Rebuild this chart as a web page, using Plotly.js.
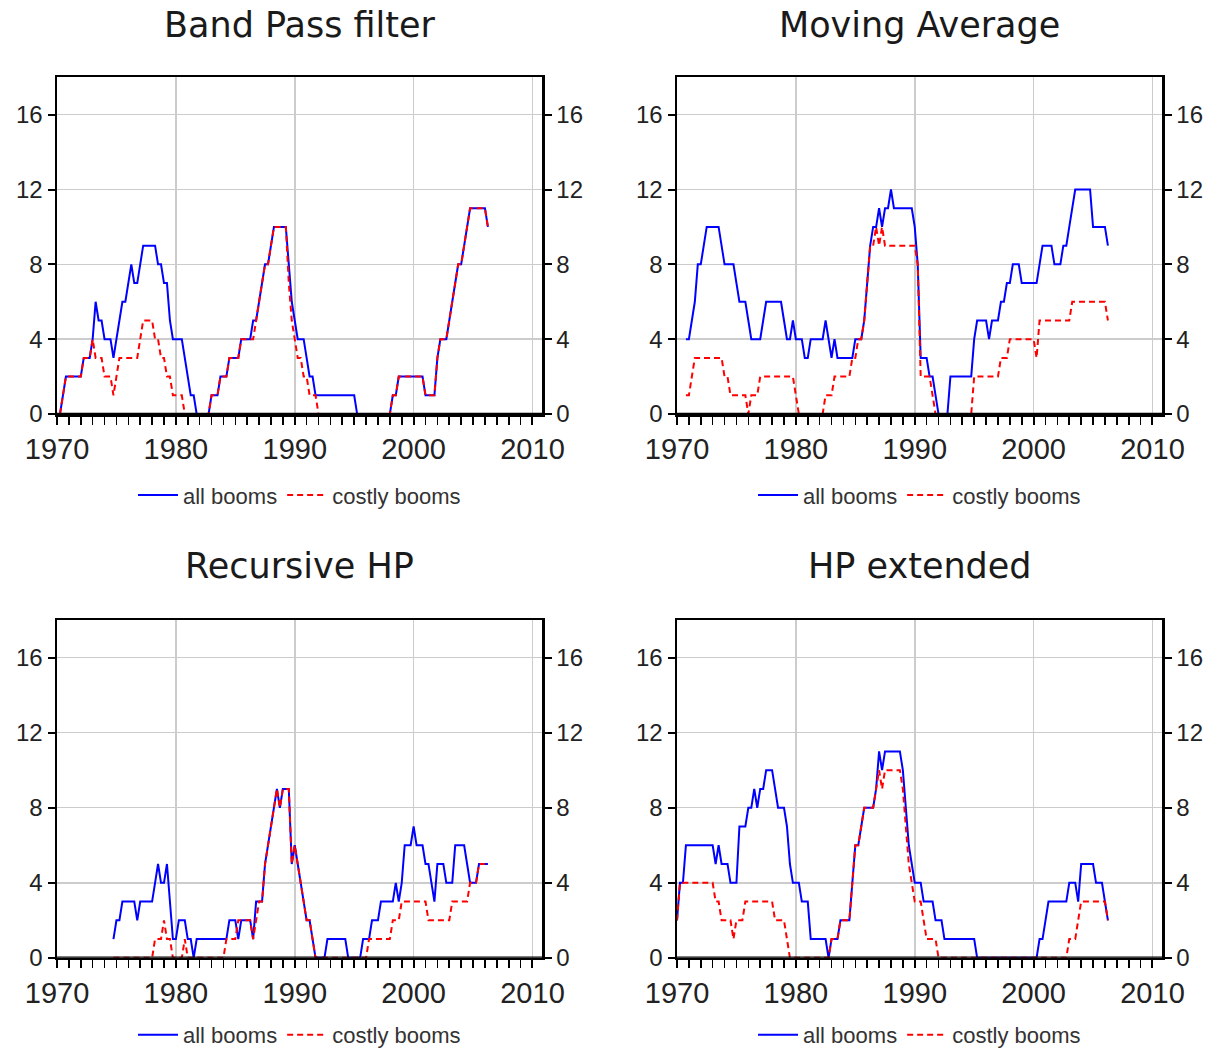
<!DOCTYPE html>
<html>
<head>
<meta charset="utf-8">
<script src="https://cdn.plot.ly/plotly-3.0.1.min.js"></script>
<style>
  html, body { margin: 0; padding: 0; background: #ffffff; }
  #chart { width: 1207px; height: 1056px; }
</style>
</head>
<body>
<div id="chart"></div>
<script>
// Quarterly data: index k of each series corresponds to quarter (start + k) counted from 1970Q1
const panelTitles = ["Band Pass filter", "Moving Average", "Recursive HP", "HP extended"];
const seriesNames = ["all booms", "costly booms"];
const xTickLabels = [1970, 1980, 1990, 2000, 2010];
const yTickLabels = [0, 4, 8, 12, 16];

// Band Pass filter
const bpStart = 1;
const bpAll = [
  0,1,2,2,2,2,2,2,3,3,3,4,
  6,5,5,4,4,4,3,4,5,6,6,7,
  8,7,7,8,9,9,9,9,9,8,8,7,
  7,5,4,4,4,4,3,2,1,1,0,0,
  0,0,0,1,1,1,2,2,2,3,3,3,
  3,4,4,4,4,5,5,6,7,8,8,9,
  10,10,10,10,10,8,6,5,4,4,4,3,
  2,2,1,1,1,1,1,1,1,1,1,1,
  1,1,1,1,0,0,0,0,0,0,0,0,
  0,0,0,0,1,1,2,2,2,2,2,2,
  2,2,2,1,1,1,1,3,4,4,4,5,
  6,7,8,8,9,10,11,11,11,11,11,11,10
];
const bpCostly = [
  0,1,2,2,2,2,2,2,3,3,3,4,
  3,3,3,2,2,2,1,2,3,3,3,3,
  3,3,3,4,5,5,5,5,4,4,3,3,
  2,2,1,1,1,1,0,0,0,0,0,0,
  0,0,0,1,1,1,2,2,2,3,3,3,
  3,4,4,4,4,4,5,6,7,8,8,9,
  10,10,10,10,10,7,5,4,3,3,2,2,
  1,1,1,0,0,0,0,0,0,0,0,0,
  0,0,0,0,0,0,0,0,0,0,0,0,
  0,0,0,0,1,1,2,2,2,2,2,2,
  2,2,2,1,1,1,1,3,4,4,4,5,
  6,7,8,8,9,10,11,11,11,11,11,11,10
];

// Moving Average
const maStart = 3;
const maAll = [
  4,4,5,6,8,8,9,10,10,10,10,10,
  9,8,8,8,8,7,6,6,6,5,4,4,
  4,4,5,6,6,6,6,6,6,5,4,4,
  5,4,4,4,3,3,4,4,4,4,4,5,
  4,3,4,3,3,3,3,3,3,4,4,4,
  5,7,9,10,10,11,10,11,11,12,11,11,
  11,11,11,11,11,10,8,3,3,3,2,2,
  1,0,0,0,0,2,2,2,2,2,2,2,
  2,4,5,5,5,5,4,5,5,5,6,6,
  7,7,8,8,8,7,7,7,7,7,7,8,
  9,9,9,9,8,8,8,9,9,10,11,12,
  12,12,12,12,12,10,10,10,10,10,9
];
const maCostly = [
  1,1,2,3,3,3,3,3,3,3,3,3,
  3,2,2,1,1,1,1,1,1,0,1,1,
  1,2,2,2,2,2,2,2,2,2,2,2,
  2,1,0,0,0,0,0,0,0,0,0,1,
  1,1,2,2,2,2,2,2,3,3,4,4,
  5,7,9,9,10,9,10,9,9,9,9,9,
  9,9,9,9,9,9,8,2,2,2,2,1,
  0,0,0,0,0,0,0,0,0,0,0,0,
  0,2,2,2,2,2,2,2,2,2,3,3,
  3,4,4,4,4,4,4,4,4,4,3,5,
  5,5,5,5,5,5,5,5,5,5,6,6,
  6,6,6,6,6,6,6,6,6,6,5
];

// Recursive HP
const rhpStart = 19;
const rhpAll = [
  1,2,2,3,3,3,3,3,2,3,3,3,
  3,3,4,5,4,4,5,3,1,1,2,2,
  2,1,1,0,1,1,1,1,1,1,1,1,
  1,1,1,2,2,2,1,2,2,2,2,1,
  3,3,3,5,6,7,8,9,8,9,9,9,
  5,6,5,4,3,2,2,1,0,0,0,0,
  1,1,1,1,1,1,1,0,0,0,0,0,
  1,1,1,2,2,2,3,3,3,3,3,4,
  3,4,6,6,6,7,6,6,6,5,5,4,
  3,5,5,5,4,4,4,6,6,6,6,5,
  4,4,4,5,5,5,5
];
const rhpCostly = [
  0,0,0,0,0,0,0,0,0,0,0,0,
  0,0,1,1,1,2,1,1,0,0,0,0,
  1,0,0,0,0,0,0,0,0,0,0,0,
  0,0,1,1,1,1,2,2,2,2,2,1,
  2,3,3,5,6,7,8,9,8,9,9,9,
  5,6,5,4,3,2,2,1,0,0,0,0,
  0,0,0,0,0,0,0,0,0,0,0,0,
  0,0,1,1,1,1,1,1,1,1,2,2,
  2,3,3,3,3,3,3,3,3,3,2,2,
  2,2,2,2,2,2,3,3,3,3,3,3,
  4,4,4,5,5,5
];

// HP extended
const hpeStart = 0;
const hpeAll = [
  2,4,4,6,6,6,6,6,6,6,6,6,
  6,5,6,5,5,5,4,4,4,7,7,7,
  8,8,9,8,9,9,10,10,10,9,8,8,
  8,7,5,4,4,4,3,3,3,1,1,1,
  1,1,1,0,1,1,1,2,2,2,2,4,
  6,6,7,8,8,8,8,9,11,10,11,11,
  11,11,11,11,10,8,6,5,4,4,4,3,
  3,3,3,2,2,2,1,1,1,1,1,1,
  1,1,1,1,1,0,0,0,0,0,0,0,
  0,0,0,0,0,0,0,0,0,0,0,0,
  0,0,1,1,2,3,3,3,3,3,3,3,
  4,4,4,3,5,5,5,5,5,4,4,4,3,2
];
const hpeCostly = [
  2,4,4,4,4,4,4,4,4,4,4,4,
  4,3,3,2,2,2,2,1,2,2,2,3,
  3,3,3,3,3,3,3,3,3,2,2,2,
  2,1,0,0,0,0,0,0,0,0,0,0,
  0,0,0,0,1,1,1,2,2,2,2,4,
  6,6,7,8,8,8,8,9,10,9,10,10,
  10,10,10,10,9,7,5,4,3,3,3,2,
  1,1,1,1,0,0,0,0,0,0,0,0,
  0,0,0,0,0,0,0,0,0,0,0,0,
  0,0,0,0,0,0,0,0,0,0,0,0,
  0,0,0,0,0,0,0,0,0,0,0,0,
  1,1,1,2,3,3,3,3,3,3,3,3,3,2
];

function quarterX(start, arr) {
  return arr.map((_, k) => 1970 + (start + k) / 4);
}

const panels = [
  { start: bpStart,  all: bpAll,  costly: bpCostly },
  { start: maStart,  all: maAll,  costly: maCostly },
  { start: rhpStart, all: rhpAll, costly: rhpCostly },
  { start: hpeStart, all: hpeAll, costly: hpeCostly }
];

const W = 1207, H = 1056;
const X_RANGE = [1970, 2010.8];
const Y_RANGE = [0, 18];
const colDom = [[57 / W, 542 / W], [677 / W, 1162 / W]];
const rowDom = [[1 - 418 / H, 1 - 78 / H], [1 - 967 / H, 1 - 626 / H]];

const tickFontY = { family: "Liberation Sans, Arial, sans-serif", size: 24, color: "#222222" };
const tickFontX = { family: "Liberation Sans, Arial, sans-serif", size: 29, color: "#222222" };
const gridCol = "#cccccc";

const traces = [];
const layout = {
  width: W, height: H,
  margin: { l: 0, r: 0, t: 0, b: 0 },
  paper_bgcolor: "#ffffff",
  plot_bgcolor: "#ffffff",
  showlegend: true,
  annotations: [],
  shapes: []
};

panels.forEach((p, n) => {
  const col = n % 2, row = Math.floor(n / 2);
  const xa = n === 0 ? "x" : "x" + (n + 1);
  const yaL = "y" + (n === 0 ? "" : (2 * n + 1));
  const yaR = "y" + (2 * n + 2);
  const xKey = "xaxis" + (n === 0 ? "" : (n + 1));
  const yLKey = "yaxis" + (n === 0 ? "" : (2 * n + 1));
  const yRKey = "yaxis" + (2 * n + 2);
  const legKey = "legend" + (n === 0 ? "" : (n + 1));

  traces.push({
    type: "scatter", mode: "lines",
    x: quarterX(p.start, p.all), y: p.all,
    xaxis: xa, yaxis: yaL,
    name: seriesNames[0], legend: legKey,
    line: { color: "#0000ff", width: 2 },
    hoverinfo: "skip"
  });
  traces.push({
    type: "scatter", mode: "lines",
    x: quarterX(p.start, p.costly), y: p.costly,
    xaxis: xa, yaxis: yaR,
    name: seriesNames[1], legend: legKey,
    line: { color: "#ff0000", width: 2, dash: "6px,4px" },
    hoverinfo: "skip"
  });

  layout[xKey] = {
    domain: colDom[col], anchor: yaL,
    range: X_RANGE,
    tickmode: "array", tickvals: xTickLabels, ticktext: xTickLabels.map(String),
    ticks: "outside", ticklen: 8, tickwidth: 2, tickcolor: "#000000",
    minor: { dtick: 1, tick0: 1970, ticks: "outside", ticklen: 8, tickwidth: 1.6, tickcolor: "#000000", showgrid: false },
    showgrid: true, gridcolor: gridCol, gridwidth: 1.5,
    showline: true, linecolor: "#000000", linewidth: 2.5, mirror: true,
    zeroline: false,
    tickfont: tickFontX,
    fixedrange: true
  };
  layout[yLKey] = {
    domain: rowDom[row], anchor: xa,
    range: Y_RANGE,
    tickmode: "array", tickvals: yTickLabels, ticktext: yTickLabels.map(String),
    ticks: "outside", ticklen: 7, tickwidth: 2, tickcolor: "#000000",
    showgrid: true, gridcolor: gridCol, gridwidth: 1.5,
    showline: true, linecolor: "#000000", linewidth: 2.5,
    zeroline: false,
    tickfont: tickFontY,
    fixedrange: true
  };
  layout[yRKey] = {
    overlaying: yaL, anchor: xa, side: "right",
    range: Y_RANGE,
    tickmode: "array", tickvals: yTickLabels, ticktext: yTickLabels.map(String),
    ticks: "outside", ticklen: 7, tickwidth: 2, tickcolor: "#000000",
    showgrid: false,
    showline: true, linecolor: "#000000", linewidth: 2.5,
    zeroline: false,
    tickfont: tickFontY,
    fixedrange: true
  };

  // baseline of the frame drawn over the data so zero stretches sit under the axis, as in the original
  layout.shapes.push({
    type: "line", xref: xa, yref: yaL,
    x0: X_RANGE[0], x1: X_RANGE[1], y0: 0, y1: 0,
    line: { color: "#000000", width: 2.5 },
    layer: "above"
  });

  const cx = (colDom[col][0] + colDom[col][1]) / 2;
  layout[legKey] = {
    orientation: "h",
    x: cx, xanchor: "center",
    y: row === 0 ? 1 - 500 / H : 1 - 1045 / H, yanchor: "middle",
    font: { family: "Liberation Sans, Arial, sans-serif", size: 22, color: "#333333" },
    bgcolor: "rgba(0,0,0,0)",
    itemwidth: 40,
    tracegroupgap: 0
  };

  layout.annotations.push({
    text: panelTitles[n],
    xref: "paper", yref: "paper",
    x: cx, xanchor: "center",
    y: row === 0 ? 1 - 25 / H : 1 - 571 / H, yanchor: "middle",
    showarrow: false,
    font: { family: "DejaVu Sans, Verdana, sans-serif", size: 35, color: "#1a1a1a" }
  });
});

Plotly.newPlot("chart", traces, layout, { staticPlot: true, displayModeBar: false });
</script>
</body>
</html>
